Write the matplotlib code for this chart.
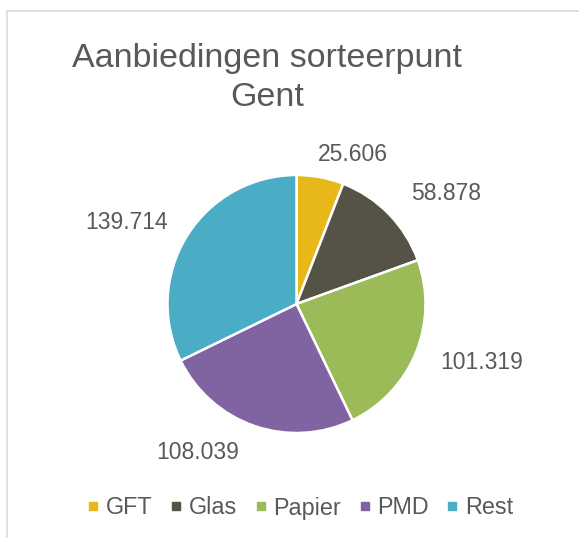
import numpy as np
import matplotlib
matplotlib.use("Agg")
from matplotlib import pyplot as plt
from matplotlib.lines import Line2D
from matplotlib.patches import Rectangle

# data
categories = ["GFT", "Glas", "Papier", "PMD", "Rest"]
values = [25.606, 58.878, 101.319, 108.039, 139.714]
value_labels = ["25.606", "58.878", "101.319", "108.039", "139.714"]
title = "Aanbiedingen sorteerpunt\nGent"

colors = ["#E8B71A", "#555346", "#9BBB59", "#8064A2", "#4BACC6"]
text_color = "#595959"

# label placement (angle in degrees, distance in pie radii), Excel "best fit" look
label_angles = [69.4, 36.6, -17.6, -123.6, 154.2]
label_dists = [1.24, 1.44, 1.51, 1.38, 1.46]

plt.rcParams['font.family'] = ['Liberation Sans', 'DejaVu Sans']

fig = plt.figure(figsize=(5.79, 5.38), dpi=100)

# chart border (cut off at right and bottom like the screenshot)
fig.patches.append(Rectangle((6.5 / 579, -0.05), 1.1, 1 - 11 / 538 + 0.05,
                             transform=fig.transFigure, fill=False,
                             edgecolor="#D9D9D9", linewidth=1.2))

lim = 1.6
ax = fig.add_axes([90.1 / 579, 27.6 / 538, 412.8 / 579, 412.8 / 538])
wedges, _ = ax.pie(values, colors=colors, startangle=90, counterclock=False,
                   wedgeprops=dict(edgecolor="white", linewidth=1.8))
ax.set_xlim(-lim, lim)
ax.set_ylim(-lim, lim)
ax.axis("off")

for lab, ang, d in zip(value_labels, label_angles, label_dists):
    a = np.deg2rad(ang)
    ax.text(d * np.cos(a), d * np.sin(a), lab, ha="center", va="center",
            fontsize=16.5, color=text_color)

fig.text(0.461, 1 - 78 / 538, title, ha="center", va="center",
         fontsize=24.5, color=text_color, linespacing=1.35)

handles = [Line2D([], [], linestyle="none", marker="s", markersize=5.5,
                  markerfacecolor=c, markeredgecolor=c) for c in colors]
fig.legend(handles, categories, loc="center", bbox_to_anchor=(0.52, 1 - 508 / 538),
           ncol=5, frameon=False, fontsize=16.8, labelcolor=text_color,
           handlelength=0.4, handletextpad=0.35, columnspacing=0.8,
           borderpad=0, borderaxespad=0)

fig.savefig("out.png", dpi=100)
